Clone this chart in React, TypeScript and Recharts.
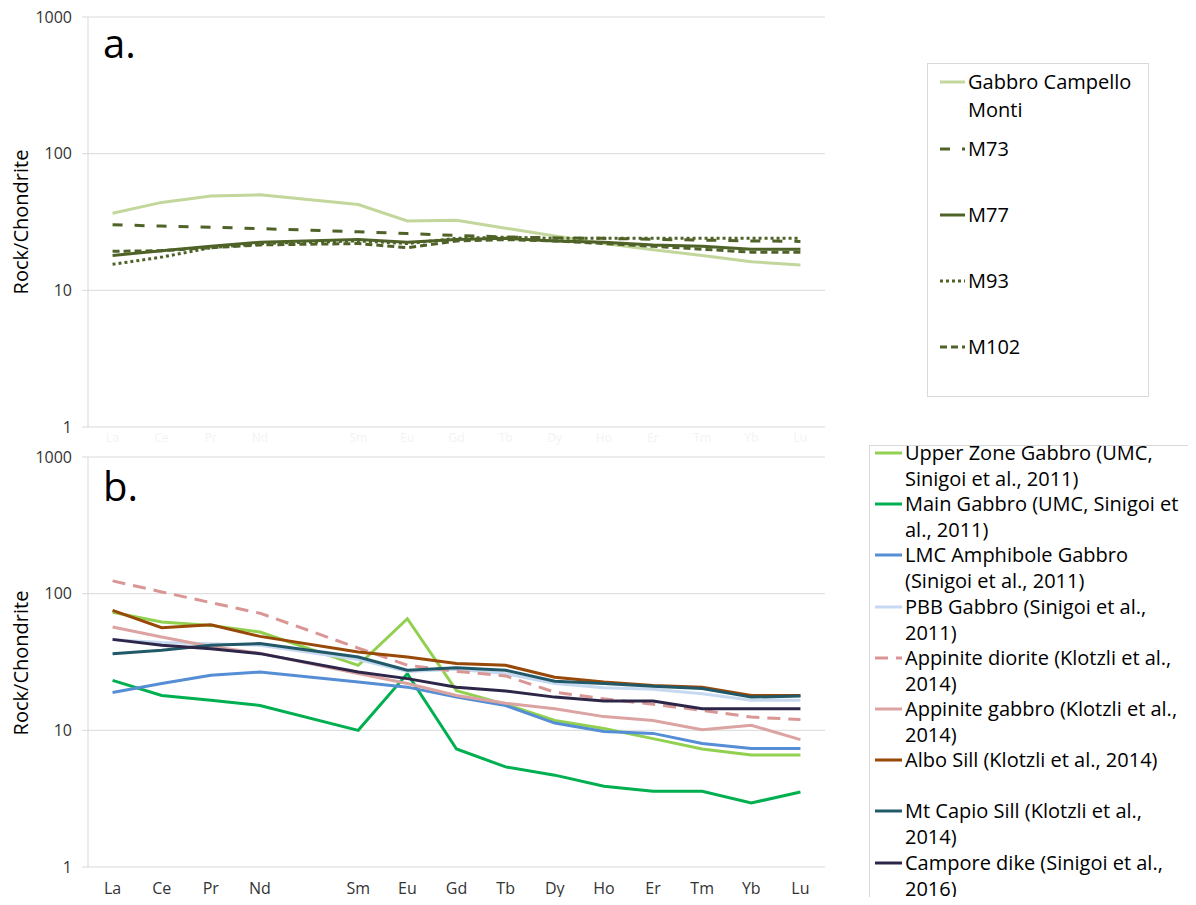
import React from "react";
import { LineChart, Line, XAxis, YAxis, CartesianGrid } from "recharts";

// REE labels, Pm left blank as in the spreadsheet
const elements = ["La", "Ce", "Pr", "Nd", "", "Sm", "Eu", "Gd", "Tb", "Dy", "Ho", "Er", "Tm", "Yb", "Lu"];

// panel a – Campello Monti samples
const gabbroCampelloMonti = [36.6, 44, 49, 50, null, 42.5, 32.2, 32.6, 28.5, 25, 22, 19.8, 18, 16.2, 15.3];
const m73 = [30.2, 29.5, 29, 28.3, null, 26.8, 26, 25.2, 24.6, 24.2, 24, 23.6, 23.3, 23, 22.8];
const m77 = [18, 19.5, 21, 22.5, null, 23.5, 22.5, 23.5, 24, 23, 22.5, 21.5, 21, 20, 20];
const m93 = [15.5, 17.5, 20.5, 22, null, 23, 22, 24, 24.5, 24, 24, 24, 24, 24, 24];
const m102 = [19.3, 19.5, 20.5, 21.5, null, 22, 20.5, 23, 23.5, 23, 22, 21, 20, 19, 19];

// panel b – literature data
const upperZoneGabbro = [73, 62, 58.6, 52.4, null, 29.9, 65.6, 19.5, 15.5, 11.8, 10.3, 8.7, 7.3, 6.6, 6.6];
const mainGabbro = [23.2, 18, 16.6, 15.2, null, 10, 26, 7.3, 5.4, 4.7, 3.9, 3.58, 3.58, 2.94, 3.54];
const lmcAmphiboleGabbro = [18.9, 22, 25.3, 26.7, null, 22.6, 20.7, 17.5, 15.2, 11.3, 9.8, 9.5, 8, 7.35, 7.35];
const pbbGabbro = [46, 44, 43, 42, null, 33, 27, 28, 26, 22, 20.5, 20, 18.5, 16.6, 16.6];
const appiniteDiorite = [124, 103, 86, 72, null, 40, 30, 27, 25, 19, 17, 15.5, 14, 12.5, 12];
const appiniteGabbro = [57, 48.2, 41.1, 36.6, null, 26, 22, 18, 15.8, 14.4, 12.6, 11.8, 10.1, 10.9, 8.55];
const alboSill = [75.5, 56.4, 59.3, 48.7, null, 37.4, 34.4, 30.8, 29.9, 24.5, 22.6, 21.3, 20.7, 18, 18];
const mtCapioSill = [36.4, 38.5, 41.9, 43.1, null, 34.4, 27.5, 28.7, 27.5, 22.9, 22, 21, 20.2, 17.5, 17.8];
const camporeDike = [46.3, 41.9, 39.6, 36.4, null, 26.7, 23.9, 20.7, 19.4, 17.5, 16.4, 16.4, 14.4, 14.4, 14.4];

type Series = { key: string; lines: string[]; values: (number | null)[]; color: string; dash?: string };

const seriesA: Series[] = [
  { key: "gcm", lines: ["Gabbro Campello", "Monti"], values: gabbroCampelloMonti, color: "#c3d69b" },
  { key: "m73", lines: ["M73"], values: m73, color: "#4f6228", dash: "10 12" },
  { key: "m77", lines: ["M77"], values: m77, color: "#4f6228" },
  { key: "m93", lines: ["M93"], values: m93, color: "#4f6228", dash: "3 3" },
  { key: "m102", lines: ["M102"], values: m102, color: "#4f6228", dash: "7 4" },
];

const seriesB: Series[] = [
  { key: "uzg", lines: ["Upper Zone Gabbro (UMC,", "Sinigoi et al., 2011)"], values: upperZoneGabbro, color: "#92d050" },
  { key: "mg", lines: ["Main Gabbro (UMC, Sinigoi et", "al., 2011)"], values: mainGabbro, color: "#00b050" },
  { key: "lmc", lines: ["LMC Amphibole Gabbro", "(Sinigoi et al., 2011)"], values: lmcAmphiboleGabbro, color: "#558ed5" },
  { key: "pbb", lines: ["PBB Gabbro (Sinigoi et al.,", "2011)"], values: pbbGabbro, color: "#c6d9f1" },
  { key: "apd", lines: ["Appinite diorite (Klotzli et al.,", "2014)"], values: appiniteDiorite, color: "#d99694", dash: "13 8" },
  { key: "apg", lines: ["Appinite gabbro (Klotzli et al.,", "2014)"], values: appiniteGabbro, color: "#dba3a1" },
  { key: "albo", lines: ["Albo Sill (Klotzli et al., 2014)"], values: alboSill, color: "#984807" },
  { key: "capio", lines: ["Mt Capio Sill (Klotzli et al.,", "2014)"], values: mtCapioSill, color: "#215968" },
  { key: "campore", lines: ["Campore dike (Sinigoi et al.,", "2016)"], values: camporeDike, color: "#2e2649" },
];

const yTicks = [1, 10, 100, 1000];
const boundaryTicks = elements.map((_, i) => i).concat(elements.length);
const centerTicks = elements.map((_, i) => i + 0.5);

function buildRows(series: Series[]) {
  return elements.map((el, i) => {
    const row: Record<string, any> = { x: i + 0.5, el };
    series.forEach((s) => (row[s.key] = s.values[i]));
    return row;
  });
}

const FONT = "'Open Sans', sans-serif";

function Panel({ series, faintLabels, height, bottom }: { series: Series[]; faintLabels?: boolean; height: number; bottom: number }) {
  return (
    <LineChart width={840} height={height} data={buildRows(series)} margin={{ top: 17, right: 15, left: 8, bottom }}>
      <CartesianGrid vertical={false} stroke="#d9d9d9" />
      <XAxis
        xAxisId="tk"
        dataKey="x"
        type="number"
        domain={[0, elements.length]}
        allowDataOverflow
        ticks={boundaryTicks}
        interval={0}
        tick={false}
        height={0}
        tickLine={{ stroke: "#bfbfbf" }}
        axisLine={{ stroke: "#bfbfbf" }}
      />
      <XAxis
        xAxisId="lab"
        dataKey="x"
        type="number"
        domain={[0, elements.length]}
        allowDataOverflow
        ticks={centerTicks}
        interval={0}
        tickFormatter={(v: number) => elements[Math.floor(v)]}
        tickLine={false}
        axisLine={false}
        tickMargin={faintLabels ? 0 : 10}
        tick={{ fontSize: faintLabels ? 12 : 16, fill: faintLabels ? "#f3f3f3" : "#333333", fontFamily: FONT }}
        height={faintLabels ? 20 : 30}
      />
      <YAxis
        scale="log"
        type="number"
        domain={[1, 1000]}
        allowDataOverflow
        ticks={yTicks}
        interval={0}
        width={80}
        tickMargin={10}
        tickLine={{ stroke: "#d9d9d9" }}
        axisLine={{ stroke: "#d9d9d9" }}
        tick={{ fontSize: 16, fill: "#333333", fontFamily: FONT }}
      />
      {series.map((s) => (
        <Line
          key={s.key}
          xAxisId="lab"
          type="linear"
          dataKey={s.key}
          name={s.lines.join(" ")}
          stroke={s.color}
          strokeWidth={3}
          strokeDasharray={s.dash}
          dot={false}
          connectNulls
          isAnimationActive={false}
        />
      ))}
    </LineChart>
  );
}

function Sample({ s, w, lh }: { s: Series; w: number; lh: number }) {
  return (
    <svg width={w} height={lh} style={{ flex: "none" }}>
      <line x1={0} y1={lh / 2} x2={w} y2={lh / 2} stroke={s.color} strokeWidth={3} strokeDasharray={s.dash} />
    </svg>
  );
}

function Legend({ series, style, sampleW, gaps, slot, fontSize, lh }: { series: Series[]; style: React.CSSProperties; sampleW: number; gaps: number[]; slot?: number; fontSize: number; lh: number }) {
  return (
    <div style={{ position: "absolute", border: "1px solid #d9d9d9", boxSizing: "border-box", background: "#fff", fontFamily: FONT, fontSize, color: "#000", ...style }}>
      {series.map((s, i) => (
        <div key={s.key} style={{ display: "flex", alignItems: "flex-start", marginTop: gaps[i] ?? 0, height: slot, lineHeight: `${lh}px`, whiteSpace: "nowrap" }}>
          <Sample s={s} w={sampleW} lh={lh} />
          <div style={{ marginLeft: 3 }}>
            {s.lines.map((l) => (
              <div key={l}>{l}</div>
            ))}
          </div>
        </div>
      ))}
    </div>
  );
}

const yLabel: React.CSSProperties = {
  position: "absolute",
  left: 21,
  width: 200,
  marginLeft: -100,
  textAlign: "center",
  transform: "rotate(-90deg)",
  fontFamily: FONT,
  fontSize: 20,
  lineHeight: "24px",
  color: "#000",
};

export default function App() {
  return (
    <div style={{ margin: -8, height: 905, position: "relative", overflow: "hidden", background: "#fff" }}>
      <div style={{ position: "absolute", left: 0, top: 0 }}>
        <Panel series={seriesA} faintLabels height={450} bottom={3} />
      </div>
      <div style={{ position: "absolute", left: 0, top: 440 }}>
        <Panel series={seriesB} height={465} bottom={8} />
      </div>

      <div style={{ position: "absolute", left: 103, top: 23, fontFamily: FONT, fontSize: 40, lineHeight: "40px" }}>a.</div>
      <div style={{ position: "absolute", left: 103, top: 466, fontFamily: FONT, fontSize: 40, lineHeight: "40px" }}>b.</div>

      <div style={{ ...yLabel, top: 210 }}>Rock/Chondrite</div>
      <div style={{ ...yLabel, top: 651 }}>Rock/Chondrite</div>

      <Legend
        series={seriesA}
        sampleW={25}
        fontSize={20}
        lh={28}
        gaps={[4, 11, 38, 38, 38]}
        style={{ left: 927, top: 63, width: 222, height: 334, paddingLeft: 12 }}
      />
      <Legend
        series={seriesB}
        sampleW={27}
        fontSize={20}
        lh={26}
        slot={51.2}
        gaps={[-6]}
        style={{ left: 869, top: 445, width: 326, height: 457, paddingLeft: 5, paddingTop: 0 }}
      />
    </div>
  );
}
